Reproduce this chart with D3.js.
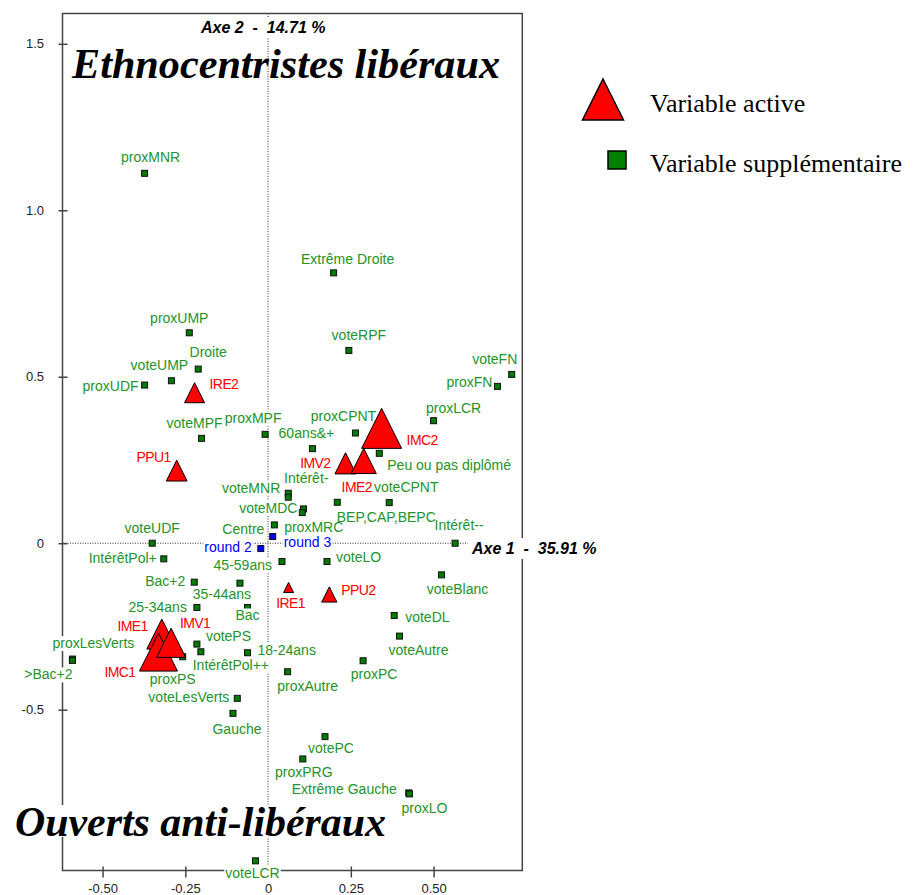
<!DOCTYPE html>
<html>
<head>
<meta charset="utf-8">
<script src="https://cdn.jsdelivr.net/npm/d3@7"></script>
<style>
body { margin: 0; background: #fff; }
</style>
</head>
<body>
<div id="chart"></div>
<script>
// active variables (red triangles), weight = relative contribution
var activeNames  = ["IRE2", "PPU1", "IMV2", "IME2", "IMC2", "IRE1", "PPU2", "IME1", "IMC1", "IMV1"];
var activeX      = [-0.222, -0.276, 0.234, 0.289, 0.343, 0.062, 0.185, -0.321, -0.331, -0.293];
var activeY      = [0.452, 0.218, 0.240, 0.247, 0.345, -0.133, -0.154, -0.273, -0.327, -0.299];
var activeWeight = [5.0, 5.2, 5.3, 6.3, 10.0, 2.5, 3.8, 7.5, 9.5, 7.3];

// supplementary variables (green squares)
var suppNames = ["proxMNR", "Extrême Droite", "proxUMP", "Droite", "voteUMP", "proxUDF",
  "voteRPF", "voteFN", "proxFN", "proxLCR", "voteMPF", "proxMPF", "60ans&+", "proxCPNT",
  "Peu ou pas diplômé", "Intérêt-", "voteMNR", "voteMDC", "proxMRC", "BEP,CAP,BEPC",
  "voteCPNT", "Centre", "voteUDF", "Intérêt--", "IntérêtPol+", "45-59ans", "voteLO",
  "voteBlanc", "Bac+2", "35-44ans", "25-34ans", "Bac", "voteDL", "voteAutre", "votePS",
  "IntérêtPol++", "18-24ans", "proxPS", "proxLesVerts", ">Bac+2", "proxPC", "proxAutre",
  "voteLesVerts", "Gauche", "votePC", "proxPRG", "Extrême Gauche", "proxLO", "voteLCR"];
var suppX = [-0.373, 0.198, -0.238, -0.211, -0.292, -0.373,
  0.244, 0.736, 0.693, 0.500, -0.201, -0.009, 0.134, 0.264,
  0.336, 0.061, 0.061, 0.107, 0.103, 0.209,
  0.366, 0.019, -0.350, 0.565, -0.315, 0.042, 0.178,
  0.524, -0.223, -0.085, -0.215, -0.062, 0.381, 0.397, -0.215,
  -0.203, -0.062, -0.258, -0.591, -0.591, 0.287, 0.059,
  -0.093, -0.106, 0.172, 0.105, 0.425, 0.427, -0.038];
var suppY = [1.111, 0.812, 0.632, 0.523, 0.488, 0.475,
  0.579, 0.507, 0.471, 0.368, 0.315, 0.327, 0.284, 0.331,
  0.270, 0.150, 0.138, 0.103, 0.092, 0.123,
  0.122, 0.055, 0.000, 0.000, -0.047, -0.055, -0.055,
  -0.095, -0.117, -0.120, -0.193, -0.193, -0.217, -0.279, -0.303,
  -0.326, -0.329, -0.341, -0.348, -0.352, -0.353, -0.386,
  -0.466, -0.511, -0.581, -0.648, -0.750, -0.753, -0.954];

// rounds (blue squares)
var roundNames = ["round 2", "round 3"];
var roundX = [-0.022, 0.014];
var roundY = [-0.016, 0.020];

var xTicks = [-0.5, -0.25, 0, 0.25, 0.5];
var xTickLabels = ["-0.50", "-0.25", "0", "0.25", "0.50"];
var yTicks = [1.5, 1.0, 0.5, 0, -0.5];
var yTickLabels = ["1.5", "1.0", "0.5", "0", "-0.5"];

// where each label sits relative to its point: [anchor, dx, dy]
var labelPlace = {
  "proxMNR": ["middle", 6, -11], "Extrême Droite": ["middle", 14, -9],
  "proxUMP": ["middle", -10, -10], "Droite": ["middle", 10, -12],
  "voteUMP": ["middle", -12, -11], "proxUDF": ["end", -6, 6],
  "voteRPF": ["middle", 10, -10], "voteFN": ["middle", -17, -10],
  "proxFN": ["end", -5, 1], "proxLCR": ["middle", 20, -8],
  "voteMPF": ["middle", -7, -10], "proxMPF": ["middle", -12, -11],
  "60ans&+": ["middle", -6, -11], "proxCPNT": ["middle", -12, -12],
  "Peu ou pas diplômé": ["start", 8, 17], "Intérêt-": ["middle", 18, -10],
  "voteMNR": ["end", -8, -4], "voteMDC": ["end", -6, 4],
  "proxMRC": ["start", -18, 19], "BEP,CAP,BEPC": ["middle", 49, 20],
  "voteCPNT": ["middle", 17, -11], "Centre": ["end", -10, 9],
  "voteUDF": ["middle", 0, -10], "Intérêt--": ["middle", 4, -13],
  "IntérêtPol+": ["end", -7, 4], "45-59ans": ["end", -10, 8],
  "voteLO": ["start", 9, 0], "voteBlanc": ["middle", 16, 19],
  "Bac+2": ["end", -9, 4], "35-44ans": ["middle", -18, 16],
  "25-34ans": ["end", -10, 5], "Bac": ["middle", 0, 13],
  "voteDL": ["start", 11, 7], "voteAutre": ["middle", 19, 19],
  "votePS": ["start", 9, -3], "IntérêtPol++": ["middle", 30, 18],
  "18-24ans": ["start", 10, 2], "proxPS": ["middle", -10, 27],
  "proxLesVerts": ["middle", 21, -11], ">Bac+2": ["middle", -24, 19],
  "proxPC": ["middle", 11, 18], "proxAutre": ["middle", 20, 19],
  "voteLesVerts": ["end", -8, 4], "Gauche": ["middle", 4, 21],
  "votePC": ["middle", 6, 16], "proxPRG": ["middle", 1, 18],
  "Extrême Gauche": ["end", -12, 1], "proxLO": ["middle", 15, 19],
  "voteLCR": ["middle", -3, 17],
  "round 2": ["end", -9, 3], "round 3": ["start", 11, 10],
  "IRE2": ["start", 15, -4], "PPU1": ["middle", -23, -9],
  "IMV2": ["end", -15, 5], "IME2": ["middle", -7, 31],
  "IMC2": ["start", 25, 17], "IRE1": ["middle", 2, 21],
  "PPU2": ["start", 12, 1], "IME1": ["end", -14, -3],
  "IMV1": ["middle", 24, -15], "IMC1": ["end", -23, 25]
};

var green = "#24932a", red = "#ff0000", blue = "#0000ff";
var sans = "Arial, 'Liberation Sans', sans-serif";
var serif = "'Times New Roman', 'Liberation Serif', serif";

var svg = d3.select("#chart")
  .append("svg")
  .attr("width", 913)
  .attr("height", 895);

var x = d3.scaleLinear().domain([-0.621, 0.768]).range([62.5, 522.3]);
var y = d3.scaleLinear().domain([-0.983, 1.591]).range([870.5, 13.5]);
var sizeScale = d3.scaleLinear().domain([0, 10]).range([0, 40]);

function triangle(cx, cy, w) {
  return `M${cx},${cy - w / 2}L${cx + w / 2},${cy + w / 2}L${cx - w / 2},${cy + w / 2}Z`;
}

// top title (the dotted axis shows through it)
svg.append("text")
  .attr("x", 72).attr("y", 78)
  .attr("textLength", 428).attr("lengthAdjust", "spacingAndGlyphs")
  .style("font-family", serif).style("font-size", "42px")
  .style("font-weight", "bold").style("font-style", "italic")
  .text("Ethnocentristes libéraux");

// dotted origin lines
svg.append("line")
  .attr("x1", x(0)).attr("x2", x(0))
  .attr("y1", y.range()[1]).attr("y2", y.range()[0])
  .attr("stroke", "#333").attr("stroke-dasharray", "1,1.5");
svg.append("line")
  .attr("x1", x.range()[0]).attr("x2", x.range()[1])
  .attr("y1", y(0)).attr("y2", y(0))
  .attr("stroke", "#333").attr("stroke-dasharray", "1,1.5");

// frame
svg.append("rect")
  .attr("x", x.range()[0]).attr("y", y.range()[1])
  .attr("width", x.range()[1] - x.range()[0])
  .attr("height", y.range()[0] - y.range()[1])
  .attr("fill", "none").attr("stroke", "#444").attr("stroke-width", 1.5);

var leftAxis = d3.axisLeft(y).tickValues(yTicks)
  .tickFormat((d, i) => yTickLabels[i]).tickSize(4).tickPadding(14.5);
var bottomAxis = d3.axisBottom(x).tickValues(xTicks)
  .tickFormat((d, i) => xTickLabels[i]).tickSize(7).tickPadding(6.3);

var gy = svg.append("g").attr("transform", `translate(${x.range()[0]},0)`).call(leftAxis);
var gx = svg.append("g").attr("transform", `translate(0,${y.range()[0]})`).call(bottomAxis);
[gx, gy].forEach(function (g) {
  g.select(".domain").remove();
  g.selectAll("line").attr("stroke", "#444").attr("stroke-width", 1.5);
  g.selectAll("text").style("font-family", sans).style("font-size", "13px").attr("fill", "#222");
});
gy.selectAll(".tick line").attr("x1", 5).attr("x2", -4);
gx.selectAll(".tick line").attr("y1", -4).attr("y2", 7);

// supplementary squares
svg.selectAll(".supp")
  .data(suppNames)
  .enter()
  .append("rect")
  .attr("class", "supp")
  .attr("x", (d, i) => x(suppX[i]) - 3)
  .attr("y", (d, i) => y(suppY[i]) - 3)
  .attr("width", 6).attr("height", 6)
  .attr("fill", "#007a00").attr("stroke", "#111").attr("stroke-width", 1);

svg.selectAll(".round")
  .data(roundNames)
  .enter()
  .append("rect")
  .attr("class", "round")
  .attr("x", (d, i) => x(roundX[i]) - 3)
  .attr("y", (d, i) => y(roundY[i]) - 3)
  .attr("width", 6).attr("height", 6)
  .attr("fill", blue).attr("stroke", "#111").attr("stroke-width", 1);

// label boxes go under the triangles, label texts above them
var boxLayer = svg.append("g");
var triLayer = svg.append("g");
var textLayer = svg.append("g").style("font-family", sans).style("font-size", "14px");

triLayer.selectAll(".active")
  .data(activeNames)
  .enter()
  .append("path")
  .attr("class", "active")
  .attr("d", (d, i) => triangle(x(activeX[i]), y(activeY[i]), sizeScale(activeWeight[i])))
  .attr("fill", red).attr("stroke", "#000").attr("stroke-width", 1);

function addLabel(name, px, py, color, spacing) {
  var p = labelPlace[name];
  var t = textLayer.append("text")
    .attr("x", px + p[1]).attr("y", py + p[2])
    .attr("text-anchor", p[0]).attr("fill", color)
    .style("letter-spacing", spacing + "px")
    .text(name);
  var b = t.node().getBBox();
  boxLayer.append("rect")
    .attr("x", b.x - 1).attr("y", b.y + 1)
    .attr("width", b.width + 2).attr("height", b.height - 1)
    .attr("fill", "#fff");
}

suppNames.forEach((d, i) => addLabel(d, x(suppX[i]), y(suppY[i]), green, 0));
roundNames.forEach((d, i) => addLabel(d, x(roundX[i]), y(roundY[i]), blue, 0));
activeNames.forEach((d, i) => addLabel(d, x(activeX[i]), y(activeY[i]), red, -0.6));

// axis titles
function axisTitle(txt, px, py) {
  var g = svg.append("g");
  var t = g.append("text")
    .attr("x", px).attr("y", py)
    .style("font-family", sans).style("font-size", "16px")
    .style("font-weight", "bold").style("font-style", "italic")
    .style("white-space", "pre")
    .text(txt);
  var b = t.node().getBBox();
  g.insert("rect", "text")
    .attr("x", b.x - 3).attr("y", b.y - 2)
    .attr("width", b.width + 6).attr("height", b.height + 4)
    .attr("fill", "#fff");
}
axisTitle("Axe 2  -  14.71 %", 201, 33);
axisTitle("Axe 1  -  35.91 %", 472, 554);

// bottom title, on white
var bottomTitle = svg.append("g");
bottomTitle.append("rect")
  .attr("x", 13).attr("y", 805).attr("width", 376).attr("height", 32)
  .attr("fill", "#fff");
bottomTitle.append("text")
  .attr("x", 15).attr("y", 836)
  .attr("textLength", 371).attr("lengthAdjust", "spacingAndGlyphs")
  .style("font-family", serif).style("font-size", "42px")
  .style("font-weight", "bold").style("font-style", "italic")
  .text("Ouverts anti-libéraux");

// legend
var legend = svg.append("g").style("font-family", serif).style("font-size", "26px");
legend.append("path")
  .attr("d", triangle(603, 99.5, 41))
  .attr("fill", red).attr("stroke", "#000").attr("stroke-width", 1.5);
legend.append("text").attr("x", 650).attr("y", 112).text("Variable active");
legend.append("rect")
  .attr("x", 608).attr("y", 151).attr("width", 18).attr("height", 18)
  .attr("fill", "#008000").attr("stroke", "#000").attr("stroke-width", 1.5);
legend.append("text").attr("x", 650).attr("y", 172).text("Variable supplémentaire");
</script>
</body>
</html>
